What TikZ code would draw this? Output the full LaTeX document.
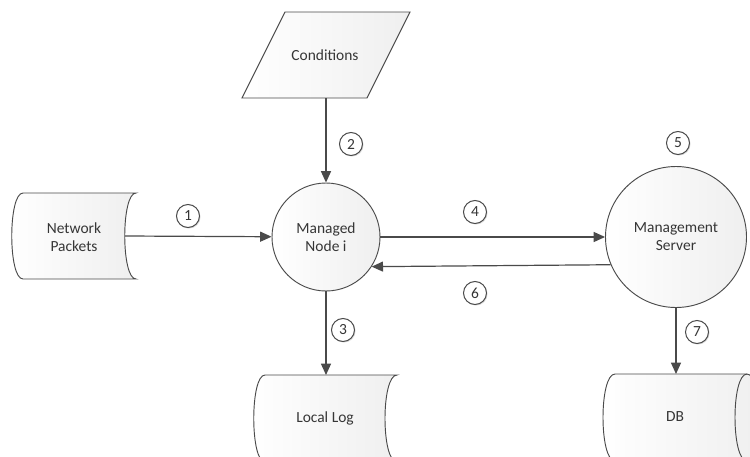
\documentclass[tikz,border=0pt]{standalone}
\usepackage{fontspec}
\setmainfont{Carlito}
\usetikzlibrary{arrows.meta,shadows}

\definecolor{edge}{HTML}{4A4A4A}
\definecolor{ink}{HTML}{363636}
\definecolor{shadeend}{HTML}{EFEFEF}

\tikzset{
  shp/.style={draw=edge, line width=0.7pt, shading=axis, shading angle=135,
              left color=white, right color=shadeend},
  lbl/.style={text=ink, align=center, font=\fontsize{11.6}{13.5}\selectfont, inner sep=0pt},
  bubble/.style={circle, draw=edge, line width=0.75pt, fill=white,
                 minimum size=17.25pt, inner sep=0pt, text=ink,
                 font=\fontsize{11.6}{13.5}\selectfont,
                 drop shadow={opacity=0.25, shadow xshift=0.8pt, shadow yshift=-0.8pt}},
  proc/.style={circle, shp, inner sep=0pt, text=ink, align=center,
               font=\fontsize{11.6}{13.5}\selectfont},
  flow/.style={draw=edge, line width=0.9pt, -{Triangle[length=8.5pt, width=7.5pt]}}
}

\begin{document}
\begin{tikzpicture}[x=0.75pt, y=-0.75pt]
  \path[use as bounding box] (0,0) rectangle (750,457);

  % external source: network packets (stored-data outline)
  \draw[shp] (23,193) -- (136,193)
     .. controls (121,193) and (121,279) .. (136,279)
     -- (23,279)
     .. controls (8,279) and (8,193) .. (23,193) -- cycle;
  \node[lbl] (np) at (74,237) {Network\\Packets};
  \coordinate (npR) at (125,236);

  % conditions (parallelogram)
  \draw[shp] (285,12) -- (410,12) -- (367,98) -- (242,98) -- cycle;
  \node[lbl] (cond) at (325,55) {Conditions};
  \coordinate (condB) at (326,98);

  % processes
  \node[proc, minimum size=81pt] (mn) at (326,237) {Managed\\Node i};
  \node[proc, minimum size=105.75pt] (ms) at (676,237) {Management\\Server};

  % local log (stored-data outline, runs off the bottom)
  \draw[shp] (265,375) -- (397,375)
     .. controls (381,375) and (381,462) .. (397,462)
     -- (265,462)
     .. controls (250,462) and (250,375) .. (265,375) -- cycle;
  \node[lbl] (ll) at (325,418) {Local Log};
  \coordinate (llT) at (326,375);

  % database (horizontal cylinder)
  \draw[shp] (615,374) -- (747,374)
     .. controls (763,374) and (763,461) .. (747,461)
     -- (615,461)
     .. controls (599,461) and (599,374) .. (615,374) -- cycle;
  \draw[edge, line width=0.7pt] (747,374)
     .. controls (731,374) and (731,461) .. (747,461);
  \node[lbl] (db) at (675,417) {DB};
  \coordinate (dbT) at (676,374);

  % data flows
  \draw[flow] (npR) -- (mn);
  \draw[flow] (condB) -- (mn);
  \draw[flow] (mn.south) -- (llT);
  \draw[flow] (mn.east) -- (ms.west);
  \draw[flow] (ms.203.4) -- (mn.-33.7);
  \draw[flow] (ms.south) -- (dbT);

  % step numbers
  \node[bubble] (s1) at (188,216) {1};
  \node[bubble] (s2) at (351,144) {2};
  \node[bubble] (s3) at (343,330) {3};
  \node[bubble] (s4) at (475,212) {4};
  \node[bubble] (s5) at (678,143) {5};
  \node[bubble] (s6) at (475,293) {6};
  \node[bubble] (s7) at (697,332) {7};
\end{tikzpicture}
\end{document}
